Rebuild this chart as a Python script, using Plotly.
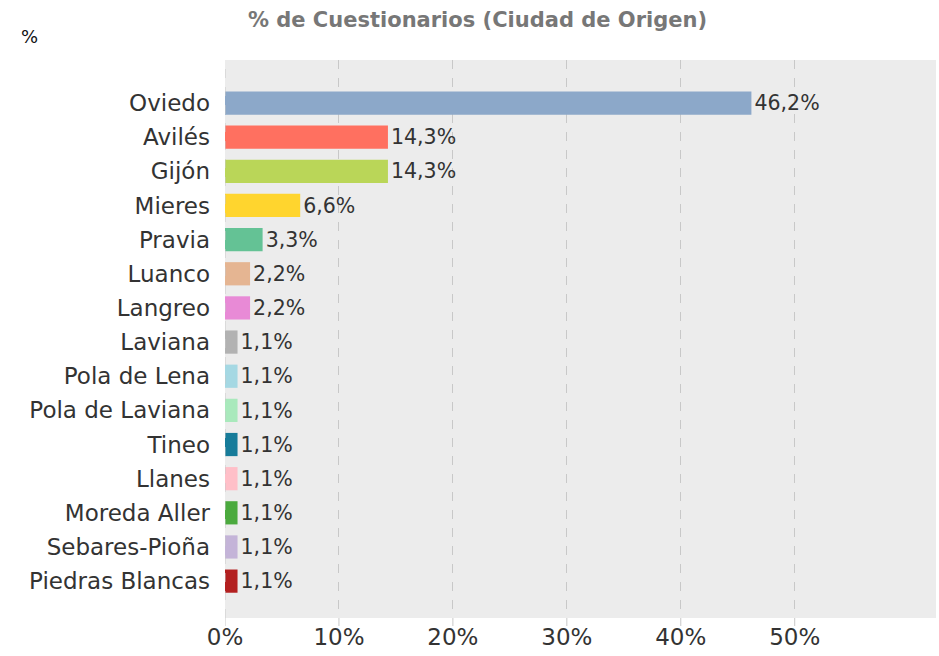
import plotly.graph_objects as go

cities = ["Oviedo", "Avilés", "Gijón", "Mieres", "Pravia", "Luanco", "Langreo",
          "Laviana", "Pola de Lena", "Pola de Laviana", "Tineo", "Llanes",
          "Moreda Aller", "Sebares-Pioña", "Piedras Blancas"]
values = [46.2, 14.3, 14.3, 6.6, 3.3, 2.2, 2.2, 1.1, 1.1, 1.1, 1.1, 1.1, 1.1, 1.1, 1.1]
colors = ["#8CA8C9", "#FF7060", "#BAD658", "#FFD52E", "#64C295", "#E5B592", "#E88AD6",
          "#B2B2B2", "#A5D8E3", "#A9E9BC", "#177C9A", "#FFBFC8", "#4BAA3E", "#C4B4D8", "#B32020"]
tick_vals = [0, 10, 20, 30, 40, 50]
tick_text = ["0%", "10%", "20%", "30%", "40%", "50%"]
labels = [f"{v:.1f}%".replace(".", ",") for v in values]

FONT = "DejaVu Sans"
GRID = "#C8C8C8"

fig = go.Figure(go.Bar(
    x=values, y=cities, orientation="h",
    marker=dict(color=colors, line=dict(width=0)),
    width=0.68,
    text=labels, textposition="outside", cliponaxis=False,
    textfont=dict(family=FONT, size=23, color="#333333"),
    hoverinfo="skip",
))

fig.update_layout(
    width=939, height=656,
    margin=dict(l=225, r=3, t=60, b=38, autoexpand=False),
    paper_bgcolor="white", plot_bgcolor="#ECECEC",
    showlegend=False,
    title=dict(text="<b>% de Cuestionarios (Ciudad de Origen)</b>",
               x=477.5 / 939, xref="container", xanchor="center",
               y=1 - 20 / 656, yref="container", yanchor="middle",
               font=dict(family=FONT, size=21, color="#777777")),
    xaxis=dict(range=[0, 62.4], tickvals=tick_vals, ticktext=tick_text,
               showgrid=True, gridcolor=GRID, griddash="dash", gridwidth=1,
               zeroline=False, showline=False, automargin=False,
               ticks="", ticklabelstandoff=3,
               tickfont=dict(family=FONT, size=23, color="#333333")),
    yaxis=dict(categoryorder="array", categoryarray=cities,
               range=[15.08, -1.26], showgrid=False, zeroline=False, showline=False,
               ticks="", ticklabelstandoff=14, automargin=False,
               tickfont=dict(family=FONT, size=23, color="#333333")),
    annotations=[dict(text="%", xref="paper", yref="paper",
                      x=(29 - 225) / 711, y=1 + 24 / 558,
                      xanchor="center", yanchor="middle", showarrow=False,
                      font=dict(family=FONT, size=18, color="#111111"))],
)
fig.add_vline(x=0, line=dict(color=GRID, dash="dash", width=1))
for tv in tick_vals:
    fig.add_shape(type="line", xref="x", yref="paper", x0=tv, x1=tv, y0=0, y1=-8 / 558,
                  line=dict(color=GRID, dash="dash", width=1))

fig.write_html("out.html", config={"displayModeBar": False},
               post_script="document.body.style.margin='0';document.body.style.overflow='hidden';")
